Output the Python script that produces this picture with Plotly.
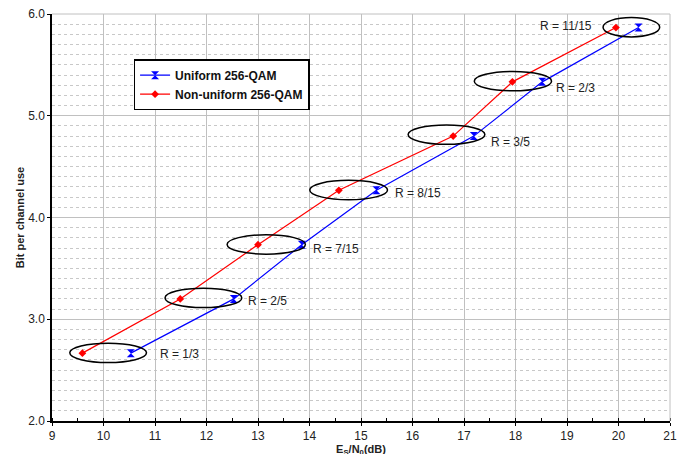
import plotly.graph_objects as go

# Data
rate_labels = ["R = 1/3", "R = 2/5", "R = 7/15", "R = 8/15", "R = 3/5", "R = 2/3", "R = 11/15"]
bits = [2.667, 3.200, 3.733, 4.267, 4.800, 5.333, 5.867]
snr_uniform = [10.53, 12.53, 13.85, 15.30, 17.19, 18.52, 20.39]
snr_nonuniform = [9.59, 11.49, 13.00, 14.57, 16.79, 17.94, 19.95]

# Annotation geometry (ellipse centres / half widths, label anchors)
ell_cx = [10.09, 11.94, 13.16, 14.76, 16.66, 17.95, 20.25]
ell_cy = [2.67, 3.21, 3.735, 4.27, 4.815, 5.34, 5.87]
ell_hw = [0.745, 0.745, 0.76, 0.755, 0.745, 0.75, 0.55]
ell_hh = 0.095
lab_x = [11.05, 12.76, 14.02, 15.62, 17.48, 18.75, 18.44]
lab_y = [2.66, 3.18, 3.69, 4.24, 4.74, 5.27, 5.88]

FONT = "Liberation Sans, Arial, sans-serif"

fig = go.Figure()
fig.add_trace(go.Scatter(
    x=snr_uniform, y=bits, mode="lines+markers", name="Uniform 256-QAM",
    line=dict(color="#0000ff", width=1.2),
    marker=dict(symbol="hourglass", size=8, color="#0000ff"),
))
fig.add_trace(go.Scatter(
    x=snr_nonuniform, y=bits, mode="lines+markers", name="Non-uniform 256-QAM",
    line=dict(color="#ff0000", width=1.2),
    marker=dict(symbol="diamond", size=6, color="#ff0000"),
))

for cx, cy, hw in zip(ell_cx, ell_cy, ell_hw):
    fig.add_shape(type="circle", xref="x", yref="y",
                  x0=cx - hw, x1=cx + hw, y0=cy - ell_hh, y1=cy + ell_hh,
                  line=dict(color="black", width=1.5), layer="above")

for lx, ly, txt in zip(lab_x, lab_y, rate_labels):
    fig.add_annotation(x=lx, y=ly, text=txt, showarrow=False, xanchor="left",
                       yanchor="middle", font=dict(family=FONT, size=12, color="#222"))

# page body has an 8px margin; margins below compensate so the plot area
# lands at the same place as in the reference
fig.update_layout(
    width=690, height=454,
    margin=dict(l=44, r=28, t=6, b=41, autoexpand=False),
    paper_bgcolor="white", plot_bgcolor="white",
    font=dict(family=FONT, size=12, color="#222"),
    showlegend=True,
    legend=dict(x=0.132, y=0.889, xanchor="left", yanchor="top",
                bgcolor="white", bordercolor="black", borderwidth=1.5,
                font=dict(family=FONT, size=12, color="#111", weight="bold"),
                tracegroupgap=0, itemwidth=30),
)
fig.update_xaxes(
    range=[9, 21], dtick=1, tick0=9, showline=True, linecolor="black", linewidth=1.5,
    mirror=False, ticks="outside", ticklen=3, tickcolor="black", automargin=False,
    ticklabeloverflow="allow",
    showgrid=True, gridcolor="#c0c0c0", gridwidth=1, zeroline=False,
    minor=dict(dtick=0.5, ticks="inside", ticklen=3, tickcolor="black", showgrid=False),
    title=dict(text="<b>E<sub>S</sub>/N<sub>0</sub>(dB)</b>", font=dict(size=11), standoff=1),
    tickfont=dict(size=12),
)
fig.update_yaxes(
    range=[2, 6], dtick=1, tick0=2, tickformat=".1f", showline=True, linecolor="black",
    linewidth=1.5, ticks="outside", ticklen=3, tickcolor="black", automargin=False,
    ticklabeloverflow="allow",
    showgrid=True, gridcolor="#c0c0c0", gridwidth=1, zeroline=False,
    minor=dict(dtick=0.1, showgrid=True, gridcolor="#c8c8c8", griddash="dot", gridwidth=1, ticks=""),
    title=dict(text="<b>Bit per channel use</b>", font=dict(size=11), standoff=1),
    tickfont=dict(size=12),
)
# top/right border in grid colour
fig.add_shape(type="line", xref="paper", yref="paper", x0=0, x1=1, y0=1, y1=1,
              line=dict(color="#c0c0c0", width=1))
fig.add_shape(type="line", xref="paper", yref="paper", x0=1, x1=1, y0=0, y1=1,
              line=dict(color="#c0c0c0", width=1))

fig.write_html("out.html")
